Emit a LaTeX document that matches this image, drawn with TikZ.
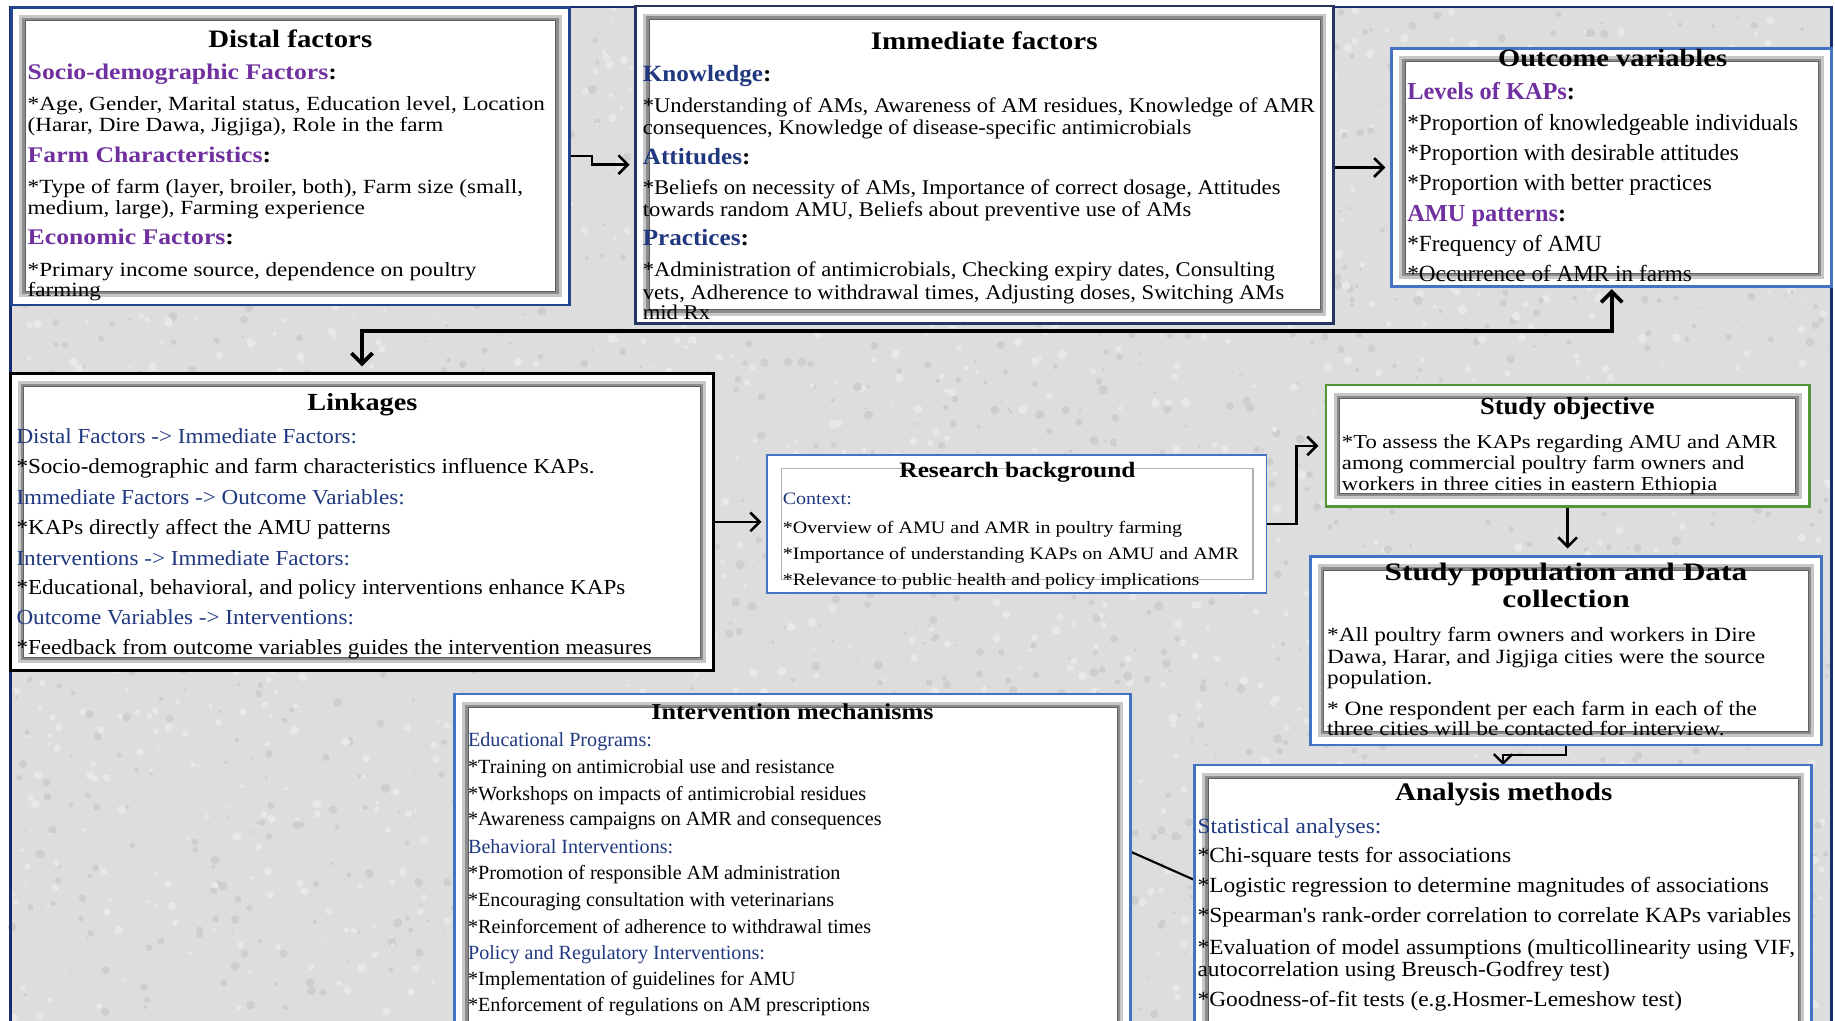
\documentclass[tikz,border=0pt]{standalone}
\usepackage{fontspec}
\setmainfont{Liberation Serif}
\newfontfamily\ffA{Liberation Serif}
\newfontfamily\ffB[FakeStretch=1.08]{Liberation Serif}
\newfontfamily\ffC[FakeStretch=1.15]{Liberation Serif}
\newfontfamily\ffD[FakeStretch=1.25]{Liberation Serif}
\usetikzlibrary{arrows.meta}
\pgfdeclarelayer{back}
\pgfdeclarelayer{conns}
\pgfsetlayers{back,conns,main}
\newcommand\fsz[1]{\fontsize{#1}{#1}\selectfont}
\definecolor{purp}{RGB}{112,48,160}
\definecolor{navy}{RGB}{32,56,128}
\definecolor{bA}{RGB}{35,68,143}
\definecolor{bB}{RGB}{68,114,196}
\definecolor{bN}{RGB}{40,52,96}
\definecolor{grn}{RGB}{84,150,55}
\definecolor{framec}{RGB}{25,45,110}
\definecolor{bgc}{RGB}{221,221,221}
\definecolor{spL}{RGB}{232,232,232}
\definecolor{spD}{RGB}{206,206,206}
\begin{document}
\begin{tikzpicture}[x=1pt,y=-1pt,
  bevel/.style={draw=#1, line width=2.4pt, fill=white, inner sep=0pt, outer sep=0pt, anchor=north west,
    path picture={
      \draw[line width=2.6pt, draw=black!22] ([shift={(7.9pt,7.9pt)}]path picture bounding box.south west) rectangle ([shift={(-7.9pt,-7.9pt)}]path picture bounding box.north east);
      \draw[line width=2.4pt, draw=black!45] ([shift={(10.2pt,10.2pt)}]path picture bounding box.south west) rectangle ([shift={(-10.2pt,-10.2pt)}]path picture bounding box.north east);
      \draw[line width=0.7pt, draw=black!62] ([shift={(11.5pt,11.5pt)}]path picture bounding box.south west) rectangle ([shift={(-11.5pt,-11.5pt)}]path picture bounding box.north east);
    }},
  thinbox/.style={draw=#1, line width=1.6pt, fill=white, inner sep=0pt, outer sep=0pt, anchor=north west,
    path picture={
      \draw[line width=1pt, draw=gray!60] ([shift={(12pt,11.5pt)}]path picture bounding box.south west) rectangle ([shift={(-11.5pt,-11.5pt)}]path picture bounding box.north east);
    }},
  conn/.style={draw=black, line width=2.2pt, shorten >=5pt, -{Straight Barb[length=8pt,width=16pt]}},
  fb/.style={draw=black, line width=3.2pt, {Straight Barb[length=9pt,width=18pt]}-{Straight Barb[length=9pt,width=18pt]}},
  plainline/.style={draw=black, line width=1.8pt},
  ln/.style={anchor=base west, inner sep=0pt, outer sep=0pt},
  ttl/.style={anchor=base, inner sep=0pt, outer sep=0pt},
  dT/.style={ttl, font=\ffC\bfseries\fsz{21.4}},
  dH/.style={ln, font=\ffC\bfseries\fsz{19.1}},
  dB/.style={ln, font=\ffC\fsz{17.2}},
  iT/.style={ttl, font=\ffC\bfseries\fsz{21.6}},
  iH/.style={ln, font=\ffB\bfseries\fsz{19.9}},
  iB/.style={ln, font=\ffB\fsz{17.9}},
  oT/.style={ttl, font=\ffC\bfseries\fsz{21.2}},
  oH/.style={ln, font=\ffA\bfseries\fsz{20.8}},
  oB/.style={ln, font=\ffA\fsz{19.8}},
  lT/.style={ttl, font=\ffC\bfseries\fsz{21}},
  lB/.style={ln, font=\ffB\fsz{18.3}},
  lN/.style={ln, font=\ffB\fsz{18.3}, text=navy},
  rT/.style={ttl, font=\ffC\bfseries\fsz{18.8}},
  rB/.style={ln, font=\ffC\fsz{14.9}},
  rN/.style={ln, font=\ffC\fsz{14.9}, text=navy},
  sT/.style={ttl, font=\ffB\bfseries\fsz{21}},
  sB/.style={ln, font=\ffC\fsz{16.8}},
  pT/.style={ttl, font=\ffD\bfseries\fsz{21.5}},
  pB/.style={ln, font=\ffC\fsz{17.3}},
  aT/.style={ttl, font=\ffC\bfseries\fsz{21.6}},
  aB/.style={ln, font=\ffB\fsz{18.5}},
  aN/.style={ln, font=\ffB\fsz{18.5}, text=navy},
  nT/.style={ttl, font=\ffC\bfseries\fsz{19.4}},
  nB/.style={ln, font=\ffA\fsz{17.2}},
  nN/.style={ln, font=\ffA\fsz{17.2}, text=navy},
]
\useasboundingbox (0,0) rectangle (1568,872);
\clip (0,0) rectangle (1568,872);

% boxes
\node[bevel=bA, minimum width=476.7, minimum height=254.3] (distal) at (9.8,6.3) {};
\node[bevel=bN, minimum width=596.5, minimum height=271.2] (immediate) at (543,5.1) {};
\node[bevel=bB, minimum width=376, minimum height=203.7] (outcome) at (1189.2,41.3) {};
\node[bevel=black, minimum width=600.8, minimum height=254] (linkages) at (8.9,319) {};
\node[thinbox=bB, minimum width=426.5, minimum height=117.6] (research) at (655.7,388.8) {};
\node[bevel=grn, minimum width=412.9, minimum height=104] (studyobj) at (1133.1,329) {};
\node[bevel=bB, minimum width=437, minimum height=160.9] (studypop) at (1119.5,475.7) {};
\node[bevel=bB, minimum width=527.2, minimum height=240] (analysis) at (1020.8,653.7) {};
\node[bevel=bB, minimum width=577.8, minimum height=300] (intervention) at (388.4,593) {};

% background, texture and frame
\begin{pgfonlayer}{back}
\fill[bgc] (9,6) rectangle (1565,900);
\pgfmathsetseed{11}
\foreach \k in {1,...,3500}{
  \pgfmathsetmacro{\px}{10+1554*rnd}
  \pgfmathsetmacro{\py}{7+866*rnd}
  \pgfmathsetmacro{\pr}{1.0+3.0*rnd}
  \ifodd\k \fill[spL] (\px,\py) circle (\pr); \else \fill[spD] (\px,\py) circle (\pr); \fi
}
\draw[framec, line width=2.2pt] (9,900) -- (9,6) -- (1565,6) -- (1565,900);
\end{pgfonlayer}

% connectors
\begin{pgfonlayer}{conns}
\coordinate (fbC) at (1377.2,283);
\draw[conn] (distal.east) -- ++(19.4,0) |- (immediate.west);
\draw[conn, shorten >=5.5pt] (immediate.east |- outcome.west) -- (outcome.west);
\draw[fb, shorten <=6pt, shorten >=2pt] (linkages.north) |- (fbC) -- (outcome.south);
\draw[conn] (linkages.east) -- (research.west |- linkages.east);
\draw[conn, shorten >=6.5pt] (research.east) -- ++(25.7,0) |- (studyobj.west);
\draw[conn, shorten >=7pt] (studyobj.south) -- (studyobj.south |- studypop.north);
\draw[conn, line width=2pt, shorten >=0pt] (studypop.south) -- ++(0,8.5) -| (analysis.north);
\draw[plainline] ([yshift=-134.8pt]intervention.north east) -- ([yshift=-98.3pt]analysis.north west);
\end{pgfonlayer}

% Distal factors
\node[dT] (d0) at (248,41) {Distal factors};
\node[dH] (d1) at (23.7,68) {{\color{purp}Socio-demographic Factors}:};
\node[dB] (d2) at (23.7,94) {*Age, Gender, Marital status, Education level, Location};
\node[dB] (d3) at (23.7,112.5) {(Harar, Dire Dawa, Jigjiga), Role in the farm};
\node[dH] (d4) at (23.7,139) {{\color{purp}Farm Characteristics}:};
\node[dB] (d5) at (23.7,165) {*Type of farm (layer, broiler, both), Farm size (small,};
\node[dB] (d6) at (23.7,183) {medium, large), Farming experience};
\node[dH] (d7) at (23.7,209) {{\color{purp}Economic Factors}:};
\node[dB] (d8) at (23.7,236) {*Primary income source, dependence on poultry};
\node[dB] (d9) at (23.7,253.5) {farming};

% Immediate factors
\node[iT] (i0) at (841,42.7) {Immediate factors};
\node[iH] (i1) at (549.3,69.8) {{\color{navy}Knowledge}:};
\node[iB] (i2) at (549.3,96.3) {*Understanding of AMs, Awareness of AM residues, Knowledge of AMR};
\node[iB] (i3) at (549.3,115.1) {consequences, Knowledge of disease-specific antimicrobials};
\node[iH] (i4) at (549.3,140.4) {{\color{navy}Attitudes}:};
\node[iB] (i5) at (549.3,166.6) {*Beliefs on necessity of AMs, Importance of correct dosage, Attitudes};
\node[iB] (i6) at (549.3,185.2) {towards random AMU, Beliefs about preventive use of AMs};
\node[iH] (i7) at (549.3,210.2) {{\color{navy}Practices}:};
\node[iB] (i8) at (549.3,236.4) {*Administration of antimicrobials, Checking expiry dates, Consulting};
\node[iB] (i9) at (549.3,255.8) {vets, Adherence to withdrawal times, Adjusting doses, Switching AMs};
\node[iB] (i10) at (549.3,273.4) {mid Rx};

% Outcome variables
\node[oT] (o0) at (1378,57) {Outcome variables};
\node[oH] (o1) at (1202.6,84.9) {{\color{purp}Levels of KAPs}:};
\node[oB] (o2) at (1202.6,111.1) {*Proportion of knowledgeable individuals};
\node[oB] (o3) at (1202.6,137.3) {*Proportion with desirable attitudes};
\node[oB] (o4) at (1202.6,162.9) {*Proportion with better practices};
\node[oH] (o5) at (1202.6,189.4) {{\color{purp}AMU patterns}:};
\node[oB] (o6) at (1202.6,215.1) {*Frequency of AMU};
\node[oB] (o7) at (1202.6,240.7) {*Occurrence of AMR in farms};

% Linkages
\node[lT] (l0) at (309.7,350.9) {Linkages};
\node[lN] (l1) at (14.1,378.8) {Distal Factors -> Immediate Factors:};
\node[lB] (l2) at (14.1,405) {*Socio-demographic and farm characteristics influence KAPs.};
\node[lN] (l3) at (14.1,431) {Immediate Factors -> Outcome Variables:};
\node[lB] (l4) at (14.1,456.6) {*KAPs directly affect the AMU patterns};
\node[lN] (l5) at (14.1,482.8) {Interventions -> Immediate Factors:};
\node[lB] (l6) at (14.1,508.4) {*Educational, behavioral, and policy interventions enhance KAPs};
\node[lN] (l7) at (14.1,534) {Outcome Variables -> Interventions:};
\node[lB] (l8) at (14.1,559.1) {*Feedback from outcome variables guides the intervention measures};

% Research background
\node[rT] (r0) at (869.4,407.9) {Research background};
\node[rN] (r1) at (668.9,431.5) {Context:};
\node[rB] (r2) at (668.9,455.7) {*Overview of AMU and AMR in poultry farming};
\node[rB] (r3) at (668.9,477.9) {*Importance of understanding KAPs on AMU and AMR};
\node[rB] (r4) at (668.9,499.9) {*Relevance to public health and policy implications};

% Study objective
\node[sT] (s0) at (1339.3,354.6) {Study objective};
\node[sB] (s1) at (1146.7,383.1) {*To assess the KAPs regarding AMU and AMR};
\node[sB] (s2) at (1146.7,401.1) {among commercial poultry farm owners and};
\node[sB] (s3) at (1146.7,418.7) {workers in three cities in eastern Ethiopia};

% Study population
\node[pT] (p0) at (1338.2,496.2) {Study population and Data};
\node[pT] (p1) at (1338.2,519) {collection};
\node[pB] (p2) at (1134,548.3) {*All poultry farm owners and workers in Dire};
\node[pB] (p3) at (1134,566.8) {Dawa, Harar, and Jigjiga cities were the source};
\node[pB] (p4) at (1134,585.3) {population.};
\node[pB] (p5) at (1134,611) {* One respondent per each farm in each of the};
\node[pB] (p6) at (1134,628.9) {three cities will be contacted for interview.};

% Analysis methods
\node[aT] (a0) at (1284.9,683.6) {Analysis methods};
\node[aN] (a1) at (1023.3,712.1) {Statistical analyses:};
\node[aB] (a2) at (1023.3,737.1) {*Chi-square tests for associations};
\node[aB] (a3) at (1023.3,762.5) {*Logistic regression to determine magnitudes of associations};
\node[aB] (a4) at (1023.3,788.1) {*Spearman's rank-order correlation to correlate KAPs variables};
\node[aB] (a5) at (1023.3,816) {*Evaluation of model assumptions (multicollinearity using VIF,};
\node[aB] (a6) at (1023.3,834) {autocorrelation using Breusch-Godfrey test)};
\node[aB] (a7) at (1023.3,860.2) {*Goodness-of-fit tests (e.g.Hosmer-Lemeshow test)};

% Intervention mechanisms
\node[nT] (n0) at (677.1,614.6) {Intervention mechanisms};
\node[nN] (n1) at (400,638) {Educational Programs:};
\node[nB] (n2) at (400,660.8) {*Training on antimicrobial use and resistance};
\node[nB] (n3) at (400,683.6) {*Workshops on impacts of antimicrobial residues};
\node[nB] (n4) at (400,705.5) {*Awareness campaigns on AMR and consequences};
\node[nN] (n5) at (400,729.2) {Behavioral Interventions:};
\node[nB] (n6) at (400,751.4) {*Promotion of responsible AM administration};
\node[nB] (n7) at (400,774.7) {*Encouraging consultation with veterinarians};
\node[nB] (n8) at (400,797.5) {*Reinforcement of adherence to withdrawal times};
\node[nN] (n9) at (400,819.7) {Policy and Regulatory Interventions:};
\node[nB] (n10) at (400,842.5) {*Implementation of guidelines for AMU};
\node[nB] (n11) at (400,864.4) {*Enforcement of regulations on AM prescriptions};
\end{tikzpicture}
\end{document}
